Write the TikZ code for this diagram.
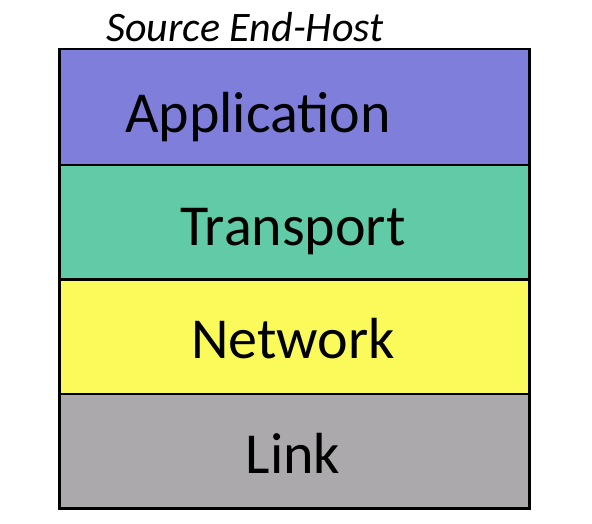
\documentclass[tikz,border=0pt]{standalone}
\usepackage{fontspec}
\setmainfont{Carlito}
\definecolor{appc}{HTML}{7F7FDB}
\definecolor{trc}{HTML}{60CBA6}
\definecolor{netc}{HTML}{FAFA5A}
\definecolor{linkc}{HTML}{ABA9AB}
\begin{document}
\begin{tikzpicture}[x=1pt,y=-1pt,
  layer/.style={draw=black,line width=2.5pt,minimum width=470pt,minimum height=115pt,inner sep=0pt,anchor=north west},
  lbl/.style={anchor=base,font=\fontsize{58}{58}\selectfont,inner sep=0pt}]
\useasboundingbox (0,0) rectangle (592,523);
\node[layer,fill=linkc] (link) at (58,392) {};
\node[layer,fill=netc] (net) at (58,277.5) {};
\node[layer,fill=trc] (tr) at (58,163) {};
\node[layer,fill=appc,minimum height=116pt] (app) at (58,47.5) {};
\node[lbl] (tapp) at (258,132) {Application};
\node[lbl] (ttr) at (293,245) {Transport};
\node[lbl] (tnet) at (293,358) {Network};
\node[lbl] (tlink) at (293,473) {Link};
\node[anchor=base,inner sep=0pt,font=\itshape\fontsize{42}{42}\selectfont] (title) at (245,41) {Source End-Host};
\end{tikzpicture}
\end{document}
